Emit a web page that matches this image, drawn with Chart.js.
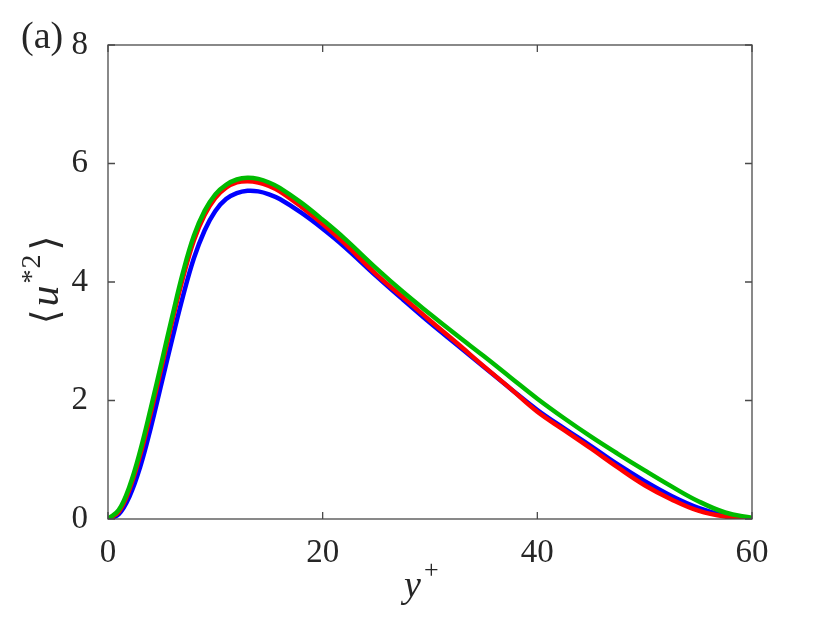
<!DOCTYPE html>
<html>
<head>
<meta charset="utf-8">
<script src="https://cdn.jsdelivr.net/npm/chart.js@4"></script>
<style>
  html, body { margin: 0; padding: 0; background: #fff; }
  #wrap { width: 830px; height: 623px; }
</style>
</head>
<body>
<div id="wrap"><canvas id="c" width="830" height="623"></canvas></div>
<script>
// y+ positions (shared by the three curves)
const yPlus = [0, 1, 2, 3, 4, 5, 6, 7, 8, 9, 10, 11, 12, 13, 14, 15, 16, 18, 20, 22, 25, 27.5, 30, 32.5, 35, 37.5, 40, 42.5, 45, 47.5, 50, 52.5, 55, 57.5, 60];

// <u*^2>
const greenVals = [0, 0.15, 0.55, 1.15, 1.88, 2.65, 3.43, 4.17, 4.78, 5.20, 5.48, 5.64, 5.73, 5.76, 5.74, 5.68, 5.59, 5.34, 5.05, 4.74, 4.23, 3.83, 3.46, 3.10, 2.75, 2.39, 2.03, 1.70, 1.39, 1.10, 0.82, 0.55, 0.30, 0.11, 0.02];
const redVals   = [0, 0.12, 0.50, 1.08, 1.80, 2.57, 3.35, 4.08, 4.70, 5.13, 5.42, 5.59, 5.68, 5.70, 5.68, 5.62, 5.53, 5.27, 4.98, 4.66, 4.13, 3.74, 3.35, 2.97, 2.58, 2.20, 1.81, 1.50, 1.19, 0.87, 0.57, 0.33, 0.14, 0.04, 0];
const blueVals  = [0, 0.08, 0.38, 0.88, 1.55, 2.30, 3.05, 3.77, 4.40, 4.87, 5.20, 5.40, 5.50, 5.54, 5.53, 5.48, 5.40, 5.17, 4.90, 4.60, 4.10, 3.70, 3.31, 2.94, 2.57, 2.20, 1.84, 1.53, 1.23, 0.92, 0.64, 0.39, 0.19, 0.06, 0];

const xTicks = [0, 20, 40, 60];
const yTicks = [0, 2, 4, 6, 8];

const serif = '"Liberation Serif", "DejaVu Serif", serif';
const axisColor = '#262626';

function pts(vals) {
    return yPlus.map((x, i) => ({ x: x, y: vals[i] }));
}

// frame with inward ticks on all four sides, plus the labels
const framePlugin = {
    id: 'frame',
    afterDatasetsDraw(chart) {
        const ctx = chart.ctx;
        const a = chart.chartArea;
        const xs = chart.scales.x, ys = chart.scales.y;
        const len = 7;
        ctx.save();
        ctx.strokeStyle = '#4a4a4a';
        ctx.lineWidth = 1.3;
        ctx.strokeRect(a.left, a.top, a.right - a.left, a.bottom - a.top);
        ctx.beginPath();
        xTicks.forEach(v => {
            const px = xs.getPixelForValue(v);
            ctx.moveTo(px, a.bottom); ctx.lineTo(px, a.bottom - len);
            ctx.moveTo(px, a.top); ctx.lineTo(px, a.top + len);
        });
        yTicks.forEach(v => {
            const py = ys.getPixelForValue(v);
            ctx.moveTo(a.left, py); ctx.lineTo(a.left + len, py);
            ctx.moveTo(a.right, py); ctx.lineTo(a.right - len, py);
        });
        ctx.stroke();
        ctx.restore();
    },
    afterDraw(chart) {
        const ctx = chart.ctx;
        ctx.save();
        ctx.fillStyle = axisColor;
        ctx.textBaseline = 'alphabetic';
        ctx.textAlign = 'left';

        // panel label
        ctx.font = '38px ' + serif;
        ctx.fillText('(a)', 21, 48);

        // x title: y+
        ctx.font = 'italic 38px ' + serif;
        ctx.fillText('y', 404, 597);
        ctx.font = '26px ' + serif;
        ctx.fillText('+', 424, 578);

        // y title: <u*2>, rotated, pieces laid out one after another
        const parts = [
            { t: '\u27E8', f: '38px "DejaVu Serif", serif', dy: 0, gap: 3 },
            { t: 'u', f: 'italic 42px ' + serif, dy: 0, gap: 2 },
            { t: '*', f: '28px ' + serif, dy: -18, gap: 1 },
            { t: '2', f: '28px ' + serif, dy: -18, gap: 4 },
            { t: '\u27E9', f: '38px "DejaVu Serif", serif', dy: 0, gap: 0 }
        ];
        let total = 0;
        parts.forEach(p => { ctx.font = p.f; p.w = ctx.measureText(p.t).width; total += p.w + p.gap; });
        ctx.translate(58, 280);
        ctx.rotate(-Math.PI / 2);
        let cx = -total / 2;
        parts.forEach(p => {
            ctx.font = p.f;
            ctx.fillText(p.t, cx, p.dy);
            cx += p.w + p.gap;
        });
        ctx.restore();
    }
};

new Chart(document.getElementById('c').getContext('2d'), {
    type: 'line',
    data: {
        datasets: [
            { label: 'green', data: pts(greenVals), borderColor: '#00bb00', borderWidth: 4.5 },
            { label: 'red', data: pts(redVals), borderColor: '#ff0000', borderWidth: 4.5 },
            { label: 'blue', data: pts(blueVals), borderColor: '#0000ff', borderWidth: 4.5 }
        ]
    },
    options: {
        responsive: false,
        animation: false,
        devicePixelRatio: 1,
        layout: { padding: { top: 45, right: 78, left: 0, bottom: 0 } },
        elements: {
            point: { radius: 0 },
            line: { tension: 0.4, fill: false, borderCapStyle: 'round', borderJoinStyle: 'round' }
        },
        plugins: { legend: { display: false }, tooltip: { enabled: false } },
        scales: {
            x: {
                type: 'linear', min: 0, max: 60,
                grid: { display: false },
                border: { display: false },
                afterBuildTicks: s => { s.ticks = xTicks.map(v => ({ value: v })); },
                afterFit: s => { s.height = 104; },
                ticks: { color: axisColor, padding: 7, font: { family: serif, size: 33 } }
            },
            y: {
                type: 'linear', min: 0, max: 8,
                grid: { display: false },
                border: { display: false },
                afterBuildTicks: s => { s.ticks = yTicks.map(v => ({ value: v })); },
                afterFit: s => { s.width = 108; },
                ticks: { color: axisColor, padding: 12, font: { family: serif, size: 33 } }
            }
        }
    },
    plugins: [framePlugin]
});
</script>
</body>
</html>
